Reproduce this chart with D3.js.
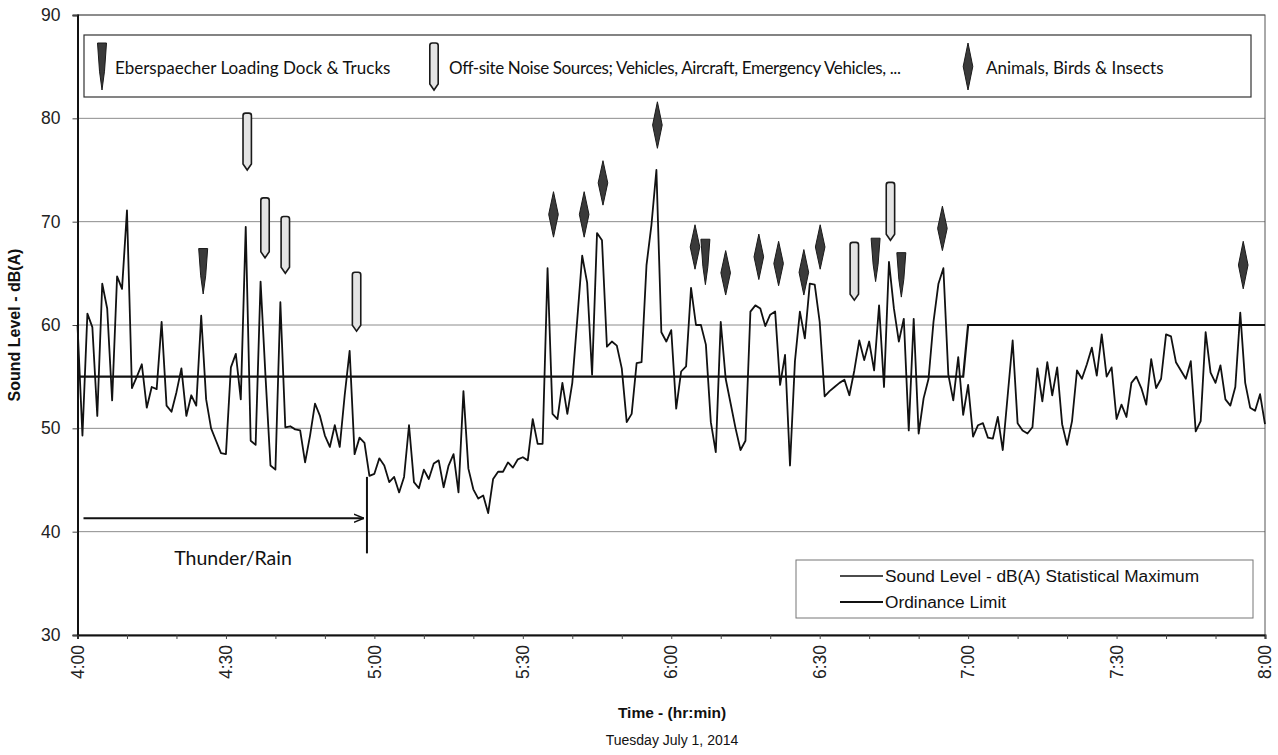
<!DOCTYPE html>
<html><head><meta charset="utf-8">
<script src="https://cdn.jsdelivr.net/npm/d3@7"></script>
<style>body{margin:0;background:#fff}</style>
</head><body>
<svg id="chart" width="1278" height="755"></svg>
<script>
// ---------- DATA ----------
const soundLevel = [
60.0,49.3,61.1,59.8,51.2,64.0,61.6,52.7,64.7,63.5,
71.1,53.9,55.0,56.2,52.0,54.0,53.8,60.3,52.2,51.6,
53.5,55.8,51.2,53.2,52.2,60.9,52.8,50.0,48.8,47.6,
47.5,55.9,57.2,52.8,69.5,48.8,48.4,64.2,55.0,46.4,
46.0,62.2,50.1,50.2,49.9,49.8,46.7,49.3,52.4,51.2,
49.3,48.2,50.3,48.2,53.2,57.5,47.5,49.1,48.6,45.4,
45.6,47.1,46.4,44.8,45.3,43.8,45.3,50.3,44.8,44.2,
46.0,45.1,46.6,46.9,44.3,46.4,47.5,43.8,53.6,46.1,
44.1,43.2,43.5,41.8,45.1,45.8,45.8,46.7,46.2,47.0,
47.2,46.9,50.9,48.5,48.5,65.5,51.4,50.9,54.4,51.4,
54.4,60.5,66.7,64.1,55.2,68.9,68.2,57.9,58.4,58.0,
55.8,50.6,51.4,56.3,56.4,65.8,69.7,75.0,59.3,58.4,
59.5,51.9,55.5,56.0,63.6,60.0,60.0,58.1,50.6,47.7,
60.3,54.8,52.4,50.0,47.9,48.8,61.3,61.9,61.6,59.9,
61.0,61.3,54.2,57.1,46.4,56.5,61.3,58.7,64.0,63.9,
60.3,53.1,53.6,54.0,54.4,54.7,53.2,55.6,58.5,56.6,
58.4,55.6,61.9,54.0,66.1,61.6,58.4,60.6,49.8,60.6,
49.5,52.9,54.8,60.3,64.0,65.5,55.2,52.7,56.9,51.3,
54.2,49.2,50.3,50.5,49.1,49.0,51.1,47.9,53.2,58.5,
50.5,49.8,49.5,50.1,55.8,52.6,56.4,53.2,55.9,50.4,
48.4,50.7,55.6,54.8,56.2,57.8,55.1,59.1,55.0,55.9,
50.9,52.3,51.1,54.4,55.0,53.9,52.3,56.7,53.9,54.8,
59.1,58.9,56.4,55.6,54.8,56.5,49.7,50.7,59.3,55.4,
54.4,56.1,52.8,52.2,54.0,61.2,54.4,52.0,51.7,53.3,
50.4];
const limitStartMinute = [0, 180];
const limitValue = [55, 60];

const yTicks = [30, 40, 50, 60, 70, 80, 90];
const xTickMinutes = [0, 30, 60, 90, 120, 150, 180, 210, 240];
const xTickLabels = ["4:00","4:30","5:00","5:30","6:00","6:30","7:00","7:30","8:00"];

// event markers (minutes after 4:00, top / bottom level in dB)
const dockTimes = [25.4, 126.9, 161.3, 166.5];
const dockTop = [67.4, 68.3, 68.4, 67.0];
const dockBottom = [63.0, 63.9, 64.2, 62.7];
const offsiteTimes = [34.3, 37.9, 42.0, 56.4, 157.0, 164.3];
const offsiteTop = [80.5, 72.3, 70.5, 65.1, 68.0, 73.8];
const offsiteBottom = [75.0, 66.5, 65.0, 59.4, 62.4, 68.2];
const animalTimes = [96.2, 102.4, 106.2, 117.2, 124.8, 131.0, 137.7, 141.7, 146.8, 150.1, 174.8, 235.6];
const animalTop = [72.9, 72.9, 75.9, 81.6, 69.7, 67.2, 68.8, 68.1, 67.3, 69.7, 71.5, 68.1];
const animalBottom = [68.5, 68.5, 71.6, 77.1, 65.4, 62.9, 64.4, 63.8, 62.9, 65.4, 67.2, 63.5];

const legendTop = ["Eberspaecher Loading Dock & Trucks",
  "Off-site Noise Sources; Vehicles, Aircraft, Emergency Vehicles, ...",
  "Animals, Birds & Insects"];
const legendBottom = ["Sound Level - dB(A) Statistical Maximum", "Ordinance Limit"];
const thunderStart = 0, thunderEnd = 58.5, thunderLevel = 41.3;

// ---------- CHART ----------
const svg = d3.select("#chart");
const L = 77.5, R = 1265, T = 15, B = 635;
const x = d3.scaleLinear().domain([0, 240]).range([L, R]);
const y = d3.scaleLinear().domain([30, 90]).range([B, T]);
const arial = "'Liberation Sans', Arial, sans-serif";
const calibri = "Lato, 'Open Sans', sans-serif";

// gridlines
svg.append("g").selectAll("line").data(yTicks.filter(d => d > 30)).join("line")
  .attr("x1", L).attr("x2", R).attr("y1", d => y(d)).attr("y2", d => y(d))
  .attr("stroke", "#8c8c8c").attr("stroke-width", 1);

// plot border
svg.append("rect").attr("x", L).attr("y", T).attr("width", R - L).attr("height", B - T)
  .attr("fill", "none").attr("stroke", "#555").attr("stroke-width", 1);

// y axis
const yAxis = svg.append("g").attr("transform", `translate(${L},0)`)
  .call(d3.axisLeft(y).tickValues(yTicks).tickSize(5).tickPadding(12));
yAxis.select(".domain").attr("stroke", "#111").attr("stroke-width", 2);
yAxis.selectAll("text").attr("font-family", arial).attr("font-size", 17.5).attr("fill", "#222");
yAxis.selectAll("line").attr("stroke", "#444");

// x axis with minor ticks
const xAxis = svg.append("g").attr("transform", `translate(0,${B})`)
  .call(d3.axisBottom(x).tickValues(d3.range(0, 241, 10)).tickSize(4).tickFormat(""));
xAxis.select(".domain").attr("stroke", "#111").attr("stroke-width", 2);
xAxis.selectAll("line").attr("stroke", "#444");
svg.append("g").selectAll("text").data(xTickMinutes).join("text")
  .attr("transform", (d) => `translate(${x(d)},${B + 10}) rotate(-90)`)
  .attr("text-anchor", "end").attr("dy", "0.35em")
  .attr("font-family", arial).attr("font-size", 17.5).attr("fill", "#222")
  .text((d, i) => xTickLabels[i]);

// axis titles
svg.append("text").attr("transform", `translate(20,${(T + B) / 2}) rotate(-90)`)
  .attr("text-anchor", "middle").attr("font-family", arial).attr("font-weight", "bold")
  .attr("font-size", 16).attr("fill", "#111").text("Sound Level - dB(A)");
svg.append("text").attr("x", 672).attr("y", 718).attr("text-anchor", "middle")
  .attr("font-family", arial).attr("font-weight", "bold").attr("font-size", 15.5)
  .attr("fill", "#111").text("Time - (hr:min)");
svg.append("text").attr("x", 672).attr("y", 745).attr("text-anchor", "middle")
  .attr("font-family", arial).attr("font-size", 14).attr("fill", "#111")
  .text("Tuesday July 1, 2014");

// limit line
const limitSeries = soundLevel.map((_, i) => {
  let v = limitValue[0];
  limitStartMinute.forEach((s, k) => { if (i >= s) v = limitValue[k]; });
  return v;
});
const line = d3.line().x((d, i) => x(i)).y(d => y(d));
svg.append("path").datum(limitSeries).attr("d", line)
  .attr("fill", "none").attr("stroke", "#111").attr("stroke-width", 2.2);

// sound line
svg.append("path").datum(soundLevel).attr("d", line)
  .attr("fill", "none").attr("stroke", "#111").attr("stroke-width", 1.8)
  .attr("stroke-linejoin", "round");

// marker shapes
function dockPath(cx, top, bot) {
  const h = bot - top;
  return `M${cx - 4.5},${top} L${cx + 4.5},${top} L${cx + 2.5},${top + h * 0.6} L${cx},${bot} L${cx - 2.5},${top + h * 0.6} Z`;
}
function tubePath(cx, top, bot) {
  const w = 4.2, r = 2.5;
  return `M${cx - w},${bot - 6} L${cx - w},${top + r} Q${cx - w},${top} ${cx - w + r},${top} L${cx + w - r},${top} Q${cx + w},${top} ${cx + w},${top + r} L${cx + w},${bot - 6} L${cx},${bot} Z`;
}
function diamondPath(cx, top, bot) {
  const m = (top + bot) / 2;
  return `M${cx},${top} L${cx + 4.8},${m} L${cx},${bot} L${cx - 4.8},${m} Z`;
}
const mk = svg.append("g");
mk.selectAll(".dock").data(dockTimes).join("path")
  .attr("d", (d, i) => dockPath(x(d), y(dockTop[i]), y(dockBottom[i])))
  .attr("fill", "#3a3a3a").attr("stroke", "#1a1a1a").attr("stroke-width", 1);
mk.selectAll(".tube").data(offsiteTimes).join("path")
  .attr("d", (d, i) => tubePath(x(d), y(offsiteTop[i]), y(offsiteBottom[i])))
  .attr("fill", "#e4e4e4").attr("stroke", "#1a1a1a").attr("stroke-width", 1.6);
mk.selectAll(".dia").data(animalTimes).join("path")
  .attr("d", (d, i) => diamondPath(x(d), y(animalTop[i]), y(animalBottom[i])))
  .attr("fill", "#3a3a3a").attr("stroke", "#1a1a1a").attr("stroke-width", 1);

// top legend
svg.append("rect").attr("x", 84).attr("y", 35).attr("width", 1167).attr("height", 62)
  .attr("fill", "#fff").attr("stroke", "#333").attr("stroke-width", 1.2);
const legX = [102, 434, 968];
const legTX = [115, 449, 986];
svg.append("path").attr("d", dockPath(legX[0], 43, 90)).attr("fill", "#3a3a3a").attr("stroke", "#1a1a1a");
svg.append("path").attr("d", tubePath(legX[1], 43, 90)).attr("fill", "#e4e4e4").attr("stroke", "#1a1a1a").attr("stroke-width", 1.6);
svg.append("path").attr("d", diamondPath(legX[2], 43, 90)).attr("fill", "#3a3a3a").attr("stroke", "#1a1a1a");
const legText = svg.append("g").selectAll("text").data(legendTop).join("text")
  .attr("x", (d, i) => legTX[i]).attr("y", 74)
  .attr("font-family", calibri).attr("font-size", 17).attr("fill", "#111").text(d => d);
legText.filter((d, i) => i === 1).attr("textLength", 452).attr("lengthAdjust", "spacing");

// bottom legend
svg.append("rect").attr("x", 796).attr("y", 560).attr("width", 457).attr("height", 58)
  .attr("fill", "#fff").attr("stroke", "#777").attr("stroke-width", 1);
const lb = svg.append("g");
lb.selectAll("line").data(legendBottom).join("line")
  .attr("x1", 840).attr("x2", 883).attr("y1", (d, i) => 576 + i * 26).attr("y2", (d, i) => 576 + i * 26)
  .attr("stroke", "#111").attr("stroke-width", (d, i) => i ? 2.2 : 1.4);
lb.selectAll("text").data(legendBottom).join("text")
  .attr("x", 885).attr("y", (d, i) => 576 + i * 26).attr("dy", "0.35em")
  .attr("font-family", arial).attr("font-size", 17.3).attr("fill", "#111").text(d => d);

// thunder / rain annotation
svg.append("defs").append("marker").attr("id", "arr").attr("viewBox", "0 0 10 10")
  .attr("refX", 10).attr("refY", 5).attr("markerWidth", 10).attr("markerHeight", 10)
  .attr("markerUnits", "userSpaceOnUse").attr("orient", "auto")
  .append("path").attr("d", "M0,1 L10,5 L0,9").attr("fill", "none").attr("stroke", "#111").attr("stroke-width", 1.5);
svg.append("line").attr("x1", x(thunderStart) + 6).attr("x2", x(thunderEnd) - 3)
  .attr("y1", y(thunderLevel)).attr("y2", y(thunderLevel))
  .attr("stroke", "#111").attr("stroke-width", 2).attr("marker-end", "url(#arr)");
svg.append("line").attr("x1", x(thunderEnd)).attr("x2", x(thunderEnd))
  .attr("y1", y(45.3)).attr("y2", y(37.9)).attr("stroke", "#111").attr("stroke-width", 2);
svg.append("text").attr("x", 233).attr("y", 565).attr("text-anchor", "middle")
  .attr("font-family", calibri).attr("font-size", 19.5).attr("fill", "#111").text("Thunder/Rain");
</script>
</body></html>
